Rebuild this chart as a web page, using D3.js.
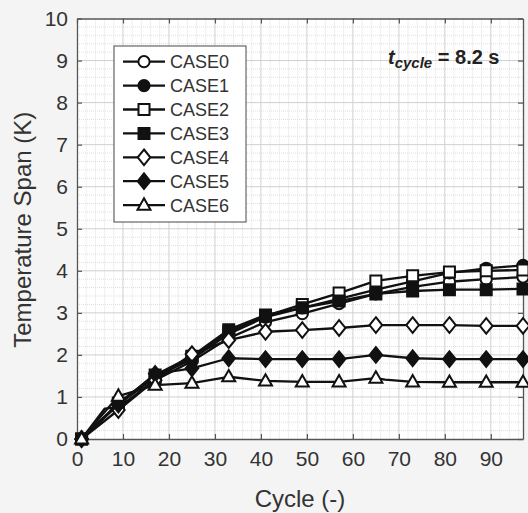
<!DOCTYPE html>
<html>
<head>
<meta charset="utf-8">
<script src="https://cdn.jsdelivr.net/npm/d3@7"></script>
<style>
  html, body { margin: 0; padding: 0; background: #f4f4f4; }
  svg { display: block; font-family: Arial, "Liberation Sans", Helvetica, sans-serif; }
</style>
</head>
<body>
<svg id="chart" width="528" height="513"></svg>
<script>
// Marker cycles (a marker every 8 cycles)
const cycles = [1, 9, 17, 25, 33, 41, 49, 57, 65, 73, 81, 89, 97];

// Temperature span (K) per case at the marker cycles
const case0 = [0, 0.75, 1.40, 1.85, 2.40, 2.78, 2.98, 3.22, 3.45, 3.62, 3.74, 3.80, 3.85];
const case1 = [0, 0.82, 1.48, 1.90, 2.50, 2.90, 3.12, 3.33, 3.55, 3.75, 3.95, 4.06, 4.13];
const case2 = [0, 0.85, 1.45, 1.95, 2.55, 2.92, 3.20, 3.47, 3.76, 3.88, 3.97, 4.00, 4.02];
const case3 = [0, 0.85, 1.52, 1.97, 2.60, 2.95, 3.12, 3.28, 3.45, 3.52, 3.55, 3.55, 3.57];
const case4 = [0, 0.69, 1.40, 2.02, 2.35, 2.55, 2.59, 2.64, 2.71, 2.71, 2.71, 2.69, 2.69];
const case5 = [0, 0.82, 1.55, 1.68, 1.92, 1.90, 1.90, 1.90, 2.00, 1.92, 1.90, 1.90, 1.90];
const case6 = [0, 1.02, 1.28, 1.33, 1.48, 1.38, 1.36, 1.36, 1.45, 1.36, 1.35, 1.35, 1.35];

// Intermediate points on the lines that carry no marker
const extraCycles0 = [6];
const extraValues0 = [0.72];
const extraCycles6 = [67];
const extraValues6 = [1.41];

const caseNames = ["CASE0", "CASE1", "CASE2", "CASE3", "CASE4", "CASE5", "CASE6"];
const caseValues = [case0, case1, case2, case3, case4, case5, case6];
const caseMarkers = ["circle", "circle", "square", "square", "diamond", "diamond", "triangle"];
const caseFilled = [false, true, false, true, false, true, false];

const xTicks = [0, 10, 20, 30, 40, 50, 60, 70, 80, 90];
const yTicks = [0, 1, 2, 3, 4, 5, 6, 7, 8, 9, 10];

const xLabel = "Cycle (-)";
const yLabel = "Temperature Span (K)";

// Layout
const W = 528, H = 513;
const margin = { left: 77, top: 18.5, right: 5, bottom: 74 };
const plotW = W - margin.left - margin.right;
const plotH = H - margin.top - margin.bottom;

const svg = d3.select("#chart");

const x = d3.scaleLinear().domain([0, 97]).range([margin.left, margin.left + plotW]);
const y = d3.scaleLinear().domain([0, 10]).range([margin.top + plotH, margin.top]);

// Plot background
svg.append("rect")
  .attr("x", margin.left).attr("y", margin.top)
  .attr("width", plotW).attr("height", plotH)
  .attr("fill", "#ffffff");

// Minor grid
const gGrid = svg.append("g");
const xMinor = d3.range(0, 97.01, 2).filter(v => v % 10 !== 0);
const yMinor = d3.range(0, 10.001, 0.2).map(v => +v.toFixed(1)).filter(v => Math.abs(v - Math.round(v)) > 1e-6);
gGrid.selectAll(".xminor").data(xMinor).enter().append("line")
  .attr("x1", d => x(d)).attr("x2", d => x(d))
  .attr("y1", margin.top).attr("y2", margin.top + plotH)
  .attr("stroke", "#dedede").attr("stroke-width", 1).attr("stroke-dasharray", "1,1");
gGrid.selectAll(".yminor").data(yMinor).enter().append("line")
  .attr("x1", margin.left).attr("x2", margin.left + plotW)
  .attr("y1", d => y(d)).attr("y2", d => y(d))
  .attr("stroke", "#dedede").attr("stroke-width", 1).attr("stroke-dasharray", "1,1");

// Major grid
gGrid.selectAll(".xmajor").data(xTicks.filter(d => d > 0)).enter().append("line")
  .attr("x1", d => x(d)).attr("x2", d => x(d))
  .attr("y1", margin.top).attr("y2", margin.top + plotH)
  .attr("stroke", "#d0d0d0").attr("stroke-width", 1);
gGrid.selectAll(".ymajor").data(yTicks.filter(d => d > 0 && d < 10)).enter().append("line")
  .attr("x1", margin.left).attr("x2", margin.left + plotW)
  .attr("y1", d => y(d)).attr("y2", d => y(d))
  .attr("stroke", "#d0d0d0").attr("stroke-width", 1);

// Axes (ticks pointing inward, on all four sides)
const axisColor = "#555";
const tickFont = 21;
function styleAxis(g) {
  g.select(".domain").attr("stroke", axisColor).attr("stroke-width", 1.3);
  g.selectAll(".tick line").attr("stroke", axisColor).attr("stroke-width", 1.2);
  g.selectAll(".tick text").attr("fill", "#333").attr("font-size", tickFont)
    .attr("font-family", "Arial, 'Liberation Sans', sans-serif");
}
const xAxis = svg.append("g").attr("transform", `translate(0,${margin.top + plotH})`)
  .call(d3.axisBottom(x).tickValues(xTicks).tickSize(-5).tickPadding(12).tickSizeOuter(0));
styleAxis(xAxis);
xAxis.selectAll(".tick text").attr("dy", "0.71em");

const xAxisTop = svg.append("g").attr("transform", `translate(0,${margin.top})`)
  .call(d3.axisTop(x).tickValues(xTicks).tickSize(-5).tickFormat("").tickSizeOuter(0));
styleAxis(xAxisTop);

const yAxis = svg.append("g").attr("transform", `translate(${margin.left},0)`)
  .call(d3.axisLeft(y).tickValues(yTicks).tickSize(-5).tickPadding(9).tickSizeOuter(0));
styleAxis(yAxis);

const yAxisRight = svg.append("g").attr("transform", `translate(${margin.left + plotW},0)`)
  .call(d3.axisRight(y).tickValues(yTicks).tickSize(-5).tickFormat("").tickSizeOuter(0));
styleAxis(yAxisRight);

// Axis titles
svg.append("text")
  .attr("x", margin.left + plotW / 2).attr("y", 507)
  .attr("text-anchor", "middle").attr("font-size", 24).attr("fill", "#333")
  .text(xLabel);
svg.append("text")
  .attr("transform", `translate(31,${margin.top + plotH / 2 + 1}) rotate(-90)`)
  .attr("text-anchor", "middle").attr("font-size", 24).attr("fill", "#333")
  .text(yLabel);

// Marker shapes centred on (0,0)
function markerPath(type) {
  switch (type) {
    case "circle": {
      const r = 5.6;
      return `M${r},0A${r},${r},0,1,1,${-r},0A${r},${r},0,1,1,${r},0Z`;
    }
    case "square": {
      const s = 5.5;
      return `M${-s},${-s}H${s}V${s}H${-s}Z`;
    }
    case "diamond": {
      const w = 6.3, h = 7.8;
      return `M0,${-h}L${w},0L0,${h}L${-w},0Z`;
    }
    case "triangle": {
      return "M0,-6.8L6.5,4.6L-6.5,4.6Z";
    }
  }
}

const lineColor = "#111";
const line = d3.line().x(d => x(d[0])).y(d => y(d[1]));

const extras = { 0: [extraCycles0, extraValues0], 6: [extraCycles6, extraValues6] };

const gSeries = svg.append("g");
caseValues.forEach((vals, i) => {
  let pts = cycles.map((c, j) => [c, vals[j]]);
  if (extras[i]) {
    const [ec, ev] = extras[i];
    pts = pts.concat(ec.map((c, j) => [c, ev[j]])).sort((a, b) => a[0] - b[0]);
  }
  const g = gSeries.append("g");
  g.append("path").datum(pts)
    .attr("d", line)
    .attr("fill", "none").attr("stroke", lineColor).attr("stroke-width", 2.3)
    .attr("stroke-linejoin", "round");
  g.selectAll("path.marker").data(cycles.map((c, j) => [c, vals[j]])).enter()
    .append("path").attr("class", "marker")
    .attr("transform", d => `translate(${x(d[0])},${y(d[1])})`)
    .attr("d", markerPath(caseMarkers[i]))
    .attr("fill", caseFilled[i] ? lineColor : "#fff")
    .attr("stroke", lineColor).attr("stroke-width", 2);
});

// Legend
const leg = svg.append("g");
const legX = 114, legY = 46, legW = 132, legH = 176;
leg.append("rect")
  .attr("x", legX).attr("y", legY).attr("width", legW).attr("height", legH)
  .attr("fill", "#fff").attr("stroke", "#666").attr("stroke-width", 1.2);
caseNames.forEach((name, i) => {
  const cy = 61.7 + i * 23.9;
  leg.append("line")
    .attr("x1", 123).attr("x2", 165).attr("y1", cy).attr("y2", cy)
    .attr("stroke", lineColor).attr("stroke-width", 2.3);
  leg.append("path")
    .attr("transform", `translate(144,${cy})`)
    .attr("d", markerPath(caseMarkers[i]))
    .attr("fill", caseFilled[i] ? lineColor : "#fff")
    .attr("stroke", lineColor).attr("stroke-width", 2);
  leg.append("text")
    .attr("x", 170).attr("y", cy + 6.5)
    .attr("font-size", 18).attr("fill", "#333")
    .text(name);
});

// Cycle-time annotation
const ann = svg.append("text").attr("x", 388).attr("y", 64)
  .attr("font-weight", "bold").attr("fill", "#222").attr("font-size", 20);
ann.append("tspan").attr("font-style", "italic").text("t");
ann.append("tspan").attr("font-style", "italic").attr("font-size", 15).attr("dy", 4).text("cycle");
ann.append("tspan").attr("dy", -4).text(" = 8.2 s");
</script>
</body>
</html>
